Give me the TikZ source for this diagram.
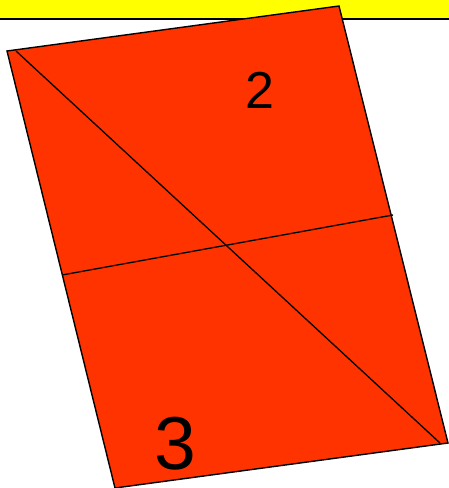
\documentclass[tikz,border=0pt]{standalone}
\usepackage{fontspec}
\setmainfont{Liberation Sans}
\usepackage{tikz}
\usetikzlibrary{positioning,calc}
\definecolor{tileorange}{HTML}{FF3300}
\definecolor{baryellow}{HTML}{FFFF00}

\begin{document}
\begin{tikzpicture}[x=1pt,y=-1pt]
          \useasboundingbox (0,0) rectangle (449,488);
          \fill[baryellow] (0,0) rectangle (449,18.5);
          \draw[line width=2pt] (0,18.5) -- (449,18.5);
          \coordinate (tl) at (7,51);
          \coordinate (tr) at (339,6);
          \coordinate (br) at (448,443);
          \coordinate (bl) at (115,488);
          \filldraw[fill=tileorange,line width=1.4pt,line join=miter] (tl) -- (tr) -- (br) -- (bl) -- cycle;
          \coordinate (d1) at (16,51);
          \coordinate (d2) at (440,443);
          \coordinate (m1) at (62,275);
          \coordinate (m2) at (393,215);
          \draw[line width=1.3pt] (d1) -- (d2);
          \draw[line width=1.3pt] (m1) -- (m2);
          \node[font=\fontsize{52}{52}\selectfont,inner sep=0pt] (two) at (260,90) {2};
          \node[font=\fontsize{75}{75}\selectfont,inner sep=0pt] (three) at (175,444) {3};
        \end{tikzpicture}
\end{document}
